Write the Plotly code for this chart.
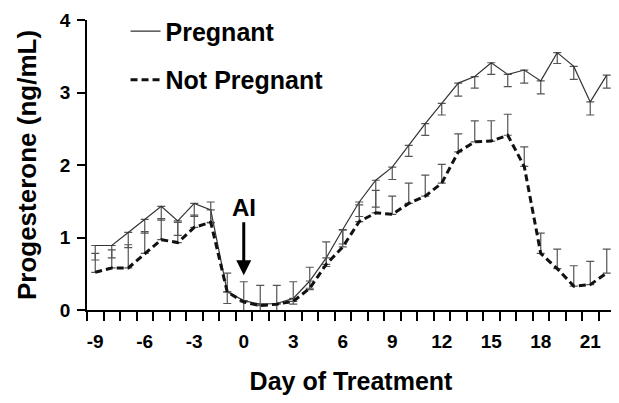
import plotly.graph_objects as go

days = list(range(-9, 23))

pregnant = [0.89, 0.89, 1.07, 1.25, 1.43, 1.23, 1.47, 1.38, 0.25, 0.13, 0.08, 0.09, 0.16, 0.40,
            0.72, 1.11, 1.49, 1.79, 1.97, 2.27, 2.57, 2.85, 3.13, 3.22, 3.41, 3.25, 3.31, 3.16,
            3.55, 3.36, 2.87, 3.24]
pregnant_sem = [0.20, 0.17, 0.21, 0.19, 0.19, 0.20, 0.18, 0.18, 0.16, 0.15, 0.17, 0.18, 0.08, 0.12,
                0.12, 0.20, 0.20, 0.37, 0.17, 0.15, 0.16, 0.16, 0.18, 0.16, 0.16, 0.17, 0.18, 0.18,
                0.15, 0.18, 0.18, 0.18]

not_pregnant = [0.52, 0.58, 0.58, 0.78, 0.97, 0.93, 1.14, 1.21, 0.25, 0.11, 0.06, 0.08, 0.12, 0.30,
                0.63, 0.87, 1.22, 1.34, 1.32, 1.47, 1.57, 1.75, 2.18, 2.32, 2.33, 2.41, 1.98, 0.78,
                0.57, 0.33, 0.35, 0.51]
not_pregnant_sem = [0.26, 0.25, 0.32, 0.30, 0.29, 0.28, 0.17, 0.28, 0.26, 0.28, 0.28, 0.26, 0.27, 0.29,
                    0.31, 0.23, 0.23, 0.31, 0.25, 0.28, 0.29, 0.26, 0.25, 0.29, 0.28, 0.29, 0.27, 0.28,
                    0.27, 0.28, 0.32, 0.33]

x_tick_vals = [-9, -6, -3, 0, 3, 6, 9, 12, 15, 18, 21]
x_tick_text = ["-9", "-6", "-3", "0", "3", "6", "9", "12", "15", "18", "21"]
x_minor_ticks = [d - 0.5 for d in range(-9, 24)]
y_tick_vals = [0, 1, 2, 3, 4]

FONT = "Arial, Liberation Sans, Helvetica, sans-serif"
zeros = [0] * len(days)

fig = go.Figure()
fig.add_trace(go.Scatter(
    x=days, y=pregnant, mode="lines", name="Pregnant", legendgroup="p",
    line=dict(color="#333333", width=1.2), cliponaxis=False,
    error_y=dict(type="data", symmetric=False, array=zeros, arrayminus=pregnant_sem,
                 color="#555555", thickness=1.2, width=4),
))
fig.add_trace(go.Scatter(
    x=days, y=not_pregnant, mode="lines", name="Not Pregnant", legendgroup="np",
    line=dict(color="#111111", width=3, dash="7px,4px"), cliponaxis=False,
    error_y=dict(type="data", symmetric=False, array=not_pregnant_sem, arrayminus=zeros,
                 color="#555555", thickness=1.2, width=4),
))

fig.add_annotation(
    x=0, y=0.48, xref="x", yref="y", text="AI", showarrow=True,
    ax=0, ay=-68, arrowhead=2, arrowwidth=3, arrowsize=1, arrowcolor="black", standoff=0,
    font=dict(family=FONT, size=24, color="black", weight="bold"),
)

fig.update_layout(
    width=611, height=395,
    margin=dict(l=79, r=4, t=12, b=93, autoexpand=False),
    paper_bgcolor="white", plot_bgcolor="white",
    font=dict(family=FONT, color="black"),
    showlegend=True,
    legend=dict(
        x=0.073, y=1.04, xanchor="left", yanchor="top", xref="paper", yref="paper",
        font=dict(family=FONT, size=25, color="black", weight="bold"),
        bgcolor="rgba(0,0,0,0)", tracegroupgap=13, traceorder="grouped",
    ),
    xaxis=dict(
        range=[-9.5, 22.5], showgrid=False, zeroline=False, automargin=False,
        showline=True, linecolor="black", linewidth=1.5,
        tickmode="array", tickvals=x_tick_vals, ticktext=x_tick_text, ticks="", ticklabelstandoff=13,
        tickfont=dict(family=FONT, size=19, color="black", weight="bold"),
        minor=dict(tickmode="array", tickvals=x_minor_ticks, ticks="outside", ticklen=9,
                   tickwidth=1.5, tickcolor="black", showgrid=False),
        title=dict(text="Day of Treatment", standoff=22,
                   font=dict(family=FONT, size=25, color="black", weight="bold")),
    ),
    yaxis=dict(
        range=[0, 4], showgrid=False, zeroline=False, automargin=False,
        showline=True, linecolor="black", linewidth=1.5,
        tickmode="array", tickvals=y_tick_vals, ticks="outside", ticklen=8,
        tickwidth=1.5, tickcolor="black", ticklabelstandoff=3,
        tickfont=dict(family=FONT, size=19, color="black", weight="bold"),
        title=dict(text="Progesterone (ng/mL)", standoff=16,
                   font=dict(family=FONT, size=26, color="black", weight="bold")),
    ),
)

fig.write_html("out.html")
